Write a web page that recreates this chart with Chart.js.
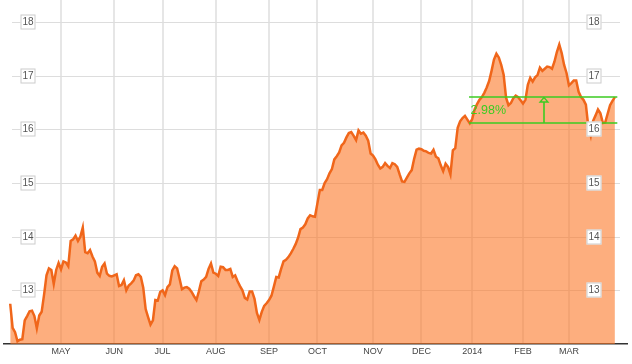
<!DOCTYPE html>
<html>
<head>
<meta charset="utf-8">
<script src="https://cdn.jsdelivr.net/npm/chart.js@4.4.1/dist/chart.umd.min.js"></script>
<style>
  html, body { margin: 0; padding: 0; background: #fff; }
  #wrap { position: relative; width: 632px; height: 364px; }
</style>
</head>
<body>
<div id="wrap"><canvas id="chart"></canvas></div>
<script>
// Month labels and the trading-day index where each month starts (Apr 1 2013 = day 0)
const monthLabels = ['MAY', 'JUN', 'JUL', 'AUG', 'SEP', 'OCT', 'NOV', 'DEC', '2014', 'FEB', 'MAR'];
const monthStarts = [22, 44, 64, 86, 108, 128, 151, 171, 192, 213, 232];

// Price axis labels
const priceTicks = [13, 14, 15, 16, 17, 18];

// Daily closing prices, first value is trading day 1
const firstDay = 1;
const prices = [
  12.75, 12.30, 12.22, 12.05, 12.08, 12.09, 12.44, 12.52, 12.61, 12.62,
  12.52, 12.29, 12.53, 12.60, 12.92, 13.28, 13.41, 13.38, 13.12, 13.38,
  13.51, 13.39, 13.54, 13.52, 13.45, 13.92, 13.95, 14.02, 13.92, 14.00,
  14.17, 13.71, 13.69, 13.75, 13.63, 13.54, 13.33, 13.27, 13.44, 13.50,
  13.31, 13.27, 13.26, 13.28, 13.30, 13.08, 13.10, 13.19, 13.00, 13.09,
  13.13, 13.18, 13.28, 13.30, 13.25, 13.05, 12.65, 12.50, 12.36, 12.44,
  12.82, 12.81, 12.97, 13.00, 12.91, 13.06, 13.11, 13.37, 13.45, 13.41,
  13.22, 13.02, 13.05, 13.06, 13.03, 12.97, 12.89, 12.82, 12.98, 13.17,
  13.20, 13.25, 13.40, 13.50, 13.33, 13.31, 13.27, 13.44, 13.43, 13.38,
  13.38, 13.40, 13.25, 13.28, 13.17, 13.08, 13.00, 12.86, 12.83, 12.98,
  12.98, 12.84, 12.58, 12.45, 12.60, 12.71, 12.76, 12.82, 12.90, 13.07,
  13.25, 13.24, 13.40, 13.54, 13.57, 13.62, 13.69, 13.77, 13.86, 13.98,
  14.14, 14.17, 14.23, 14.34, 14.40, 14.38, 14.37, 14.62, 14.87, 14.87,
  15.00, 15.07, 15.18, 15.26, 15.44, 15.50, 15.57, 15.70, 15.75, 15.85,
  15.93, 15.95, 15.88, 15.80, 15.98, 15.92, 15.94, 15.88, 15.79, 15.55,
  15.51, 15.44, 15.34, 15.27, 15.30, 15.37, 15.32, 15.28, 15.37, 15.35,
  15.30, 15.16, 15.03, 15.02, 15.10, 15.18, 15.24, 15.45, 15.62, 15.64,
  15.63, 15.60, 15.59, 15.56, 15.55, 15.62, 15.49, 15.46, 15.33, 15.22,
  15.36, 15.30, 15.16, 15.61, 15.65, 16.03, 16.15, 16.21, 16.25, 16.18,
  16.11, 16.19, 16.37, 16.47, 16.55, 16.60, 16.68, 16.78, 16.90, 17.09,
  17.30, 17.41, 17.34, 17.20, 17.02, 16.59, 16.45, 16.49, 16.58, 16.63,
  16.60, 16.54, 16.48, 16.55, 16.83, 16.96, 16.89, 16.97, 17.01, 17.15,
  17.09, 17.13, 17.17, 17.16, 17.13, 17.26, 17.44, 17.58, 17.42, 17.20,
  17.05, 16.82, 16.86, 16.91, 16.91, 16.70, 16.60, 16.55, 16.46, 16.05,
  15.88, 16.16, 16.26, 16.37, 16.30, 16.12, 16.13, 16.29, 16.45, 16.53,
  16.60
];

// Measured range (green markers)
const rangeLow = 16.12;
const rangeHigh = 16.60;
const rangeFrom = 190.7;
const rangeTo = 252;
const rangeArrowAt = 221.5;

const GREEN = '#3ccc22';

// Draws grid lines, the range marker and the boxed axis labels
const overlayPlugin = {
    id: 'overlay',
    beforeDatasetsDraw(chart) {
        const { ctx, chartArea: a, scales: { y } } = chart;
        ctx.save();
        ctx.strokeStyle = '#dddddd';
        ctx.lineWidth = 1;
        priceTicks.forEach(v => {
            const py = Math.round(y.getPixelForValue(v)) + 0.5;
            ctx.beginPath();
            ctx.moveTo(a.left + 8, py);
            ctx.lineTo(a.right - 7, py);
            ctx.stroke();
        });
        ctx.restore();
    },
    afterDatasetsDraw(chart) {
        const { ctx, chartArea: a, scales: { x, y } } = chart;
        ctx.save();

        // Range marker
        const x1 = x.getPixelForValue(rangeFrom);
        const x2 = x.getPixelForValue(rangeTo);
        const yHi = Math.round(y.getPixelForValue(rangeHigh));
        const yLo = Math.round(y.getPixelForValue(rangeLow));
        const xa = Math.round(x.getPixelForValue(rangeArrowAt));
        ctx.strokeStyle = GREEN;
        ctx.lineWidth = 1.6;
        ctx.beginPath();
        ctx.moveTo(x1, yHi); ctx.lineTo(x2, yHi);
        ctx.moveTo(x1, yLo); ctx.lineTo(x2, yLo);
        ctx.moveTo(xa, yLo); ctx.lineTo(xa, yHi + 5);
        ctx.stroke();
        ctx.lineWidth = 1.3;
        ctx.beginPath();
        ctx.moveTo(xa, yHi + 0.5);
        ctx.lineTo(xa - 4, yHi + 5);
        ctx.lineTo(xa + 4, yHi + 5);
        ctx.closePath();
        ctx.stroke();
        const pct = ((rangeHigh / rangeLow - 1) * 100).toFixed(2) + '%';
        ctx.fillStyle = GREEN;
        ctx.font = '12.5px "Liberation Sans", Arial, sans-serif';
        ctx.textAlign = 'left';
        ctx.textBaseline = 'middle';
        ctx.fillText(pct, x1 + 1.5, (yHi + yLo) / 2 + 1);

        // Boxed price labels, left and right
        ctx.font = '10px "Liberation Sans", Arial, sans-serif';
        ctx.textAlign = 'center';
        ctx.textBaseline = 'middle';
        [a.left + 24, a.right - 33].forEach(cx => {
            priceTicks.forEach(v => {
                const cy = Math.round(y.getPixelForValue(v));
                ctx.fillStyle = '#ffffff';
                ctx.fillRect(cx - 7.5, cy - 7.5, 15, 15);
                ctx.strokeStyle = '#cccccc';
                ctx.lineWidth = 1;
                ctx.strokeRect(cx - 7, cy - 7, 14, 14);
                ctx.fillStyle = '#555555';
                ctx.fillText(String(v), cx, cy + 0.5);
            });
        });

        // Month labels under the axis
        ctx.font = '9px "Liberation Sans", Arial, sans-serif';
        ctx.fillStyle = '#444444';
        monthLabels.forEach((m, i) => {
            ctx.fillText(m, x.getPixelForValue(monthStarts[i]), a.bottom + 8);
        });
        ctx.restore();
    }
};

const ctx = document.getElementById('chart').getContext('2d');
new Chart(ctx, {
    type: 'line',
    data: {
        datasets: [{
            data: prices.map((v, i) => ({ x: firstDay + i, y: v })),
            borderColor: '#f0661a',
            borderWidth: 2.5,
            backgroundColor: 'rgba(252, 120, 40, 0.6)',
            fill: 'start',
            pointRadius: 0,
            tension: 0
        }]
    },
    options: {
        responsive: true,
        maintainAspectRatio: false,
        animation: false,
        layout: { padding: { left: 4, right: 5, top: 0, bottom: 20 } },
        plugins: { legend: { display: false }, tooltip: { enabled: false } },
        scales: {
            x: {
                type: 'linear',
                min: -1.57,
                max: 256,
                afterBuildTicks: scale => {
                    scale.ticks = monthStarts.map(v => ({ value: v }));
                },
                ticks: { display: false },
                grid: { color: '#e6e6e6', lineWidth: 2, drawTicks: false },
                border: { display: true, color: '#333333', width: 1.5 }
            },
            y: {
                type: 'linear',
                min: 12,
                max: 18.41,
                afterBuildTicks: scale => {
                    scale.ticks = priceTicks.map(v => ({ value: v }));
                },
                ticks: { display: false },
                grid: { display: false, drawTicks: false },
                border: { display: false }
            }
        }
    },
    plugins: [overlayPlugin]
});
</script>
</body>
</html>
